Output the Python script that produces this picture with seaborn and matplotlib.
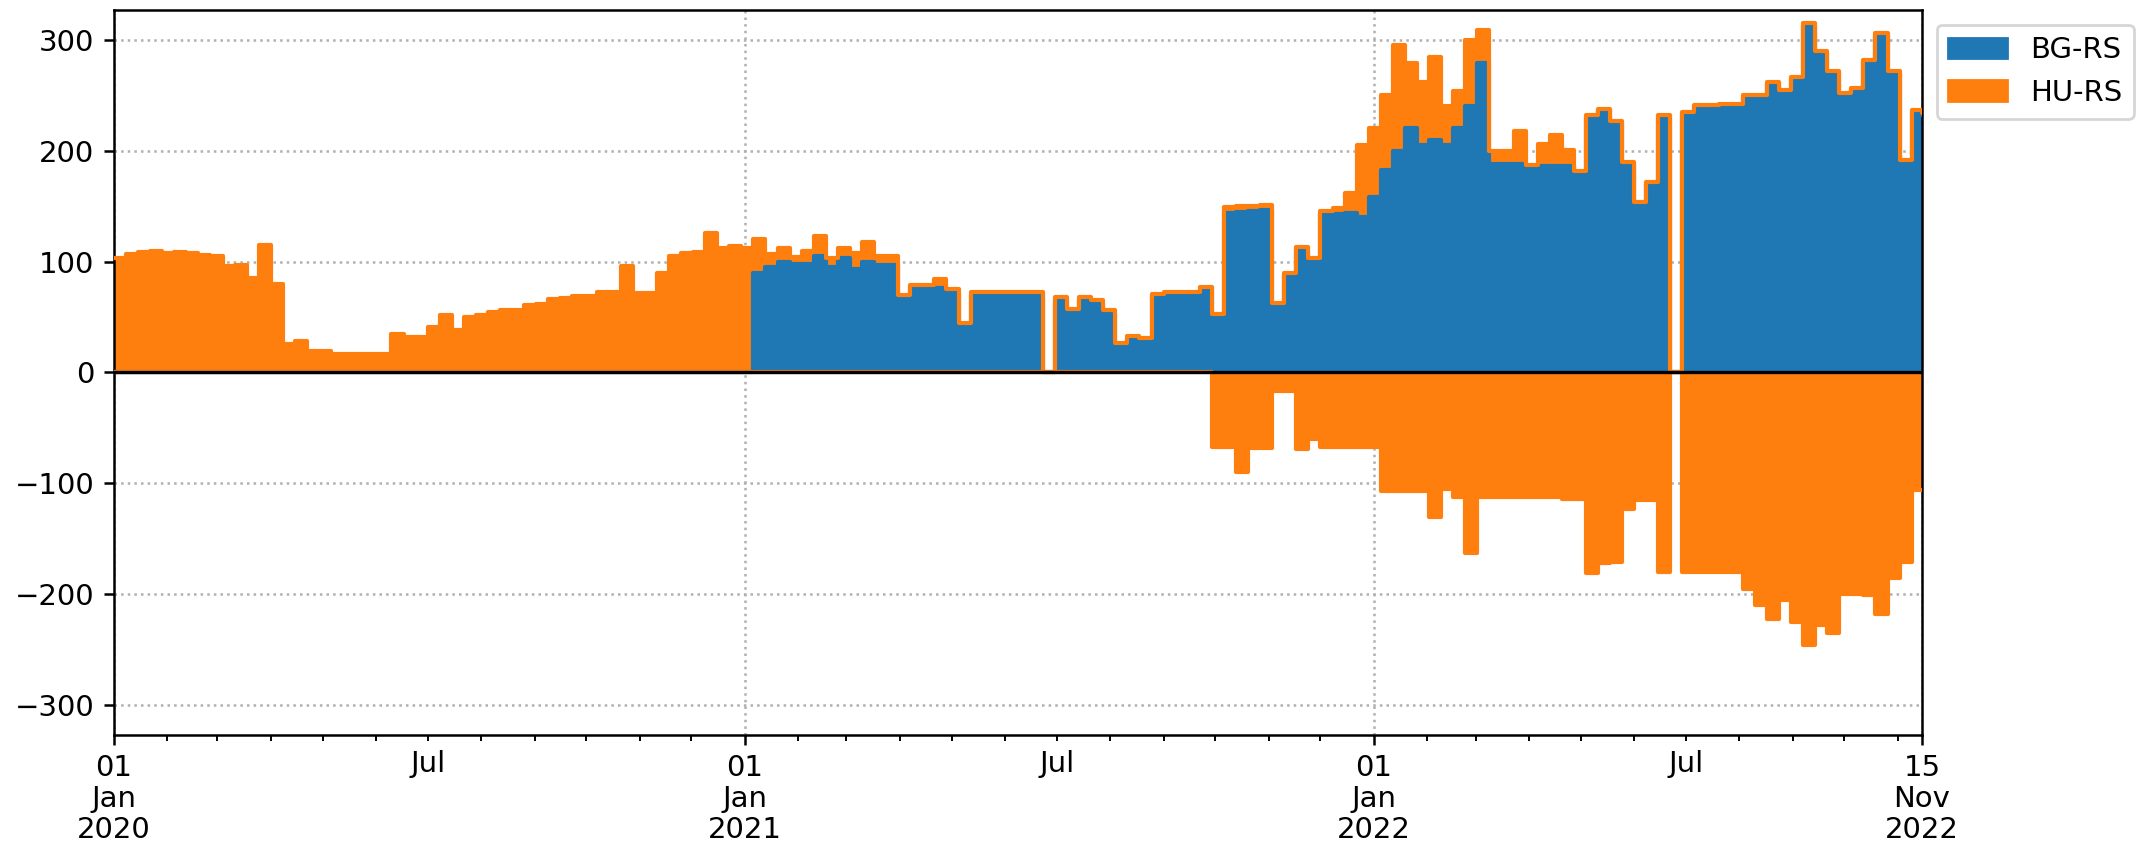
import numpy as np
import pandas as pd
import matplotlib
matplotlib.use("Agg")
import matplotlib.pyplot as plt
from matplotlib.patches import Patch
import seaborn as sns

# ---------------- data (weekly readings of the reference) ----------------
week_starts = pd.date_range("2020-01-01", periods=150, freq="7D")
end_date = pd.Timestamp("2022-11-15")
dates = week_starts.append(pd.DatetimeIndex([end_date]))

bg_rs = [0, 0, 0, 0, 0, 0, 0, 0, 0, 0,
         0, 0, 0, 0, 0, 0, 0, 0, 0, 0,
         0, 0, 0, 0, 0, 0, 0, 0, 0, 0,
         0, 0, 0, 0, 0, 0, 0, 0, 0, 0,
         0, 0, 0, 0, 0, 0, 0, 0, 0, 0,
         0, 0, 0,
         90, 95, 100, 98, 98, 105, 95, 103, 93, 100,
         97, 97, 66, 76, 76, 76, 72, 42, 70, 70,
         70, 70, 70, 70, 0, 65, 54, 65, 62, 53,
         24, 30, 28, 68, 70, 70, 70, 74, 50, 144,
         145, 146, 147, 60, 87, 110, 100, 143, 143, 144,
         140, 158, 183, 200, 221, 205, 210, 205, 221, 240,
         279, 188, 188, 188, 184, 186, 186, 186, 180, 230,
         236, 225, 188, 152, 170, 230, 0, 233, 239, 239,
         240, 240, 248, 248, 260, 253, 265, 313, 288, 270,
         250, 255, 280, 304, 270, 190, 235,
         232]

hu_rs_pos = [103, 107, 109, 110, 108, 109, 108, 106, 105, 96,
             97, 85, 115, 80, 26, 28, 19, 19, 17, 17,
             17, 17, 17, 35, 32, 32, 41, 52, 38, 50,
             52, 55, 56, 56, 61, 62, 66, 67, 69, 69,
             73, 73, 96, 72, 72, 90, 105, 108, 109, 126,
             112, 114, 112,
             30, 12, 12, 6, 12, 18, 8, 9, 15, 18,
             8, 8, 4, 3, 3, 8, 3, 3, 3, 3,
             3, 3, 3, 3, 0, 3, 3, 3, 3, 3,
             3, 3, 3, 3, 3, 3, 3, 3, 3, 5,
             5, 4, 4, 3, 3, 3, 3, 3, 5, 18,
             65, 63, 67, 95, 58, 57, 75, 35, 33, 60,
             30, 12, 12, 30, 3, 20, 28, 15, 2, 2,
             2, 2, 2, 2, 2, 2, 0, 2, 2, 2,
             2, 2, 2, 2, 2, 2, 2, 2, 2, 2,
             2, 2, 2, 2, 2, 2, 2,
             2]

hu_rs_neg = [0, 0, 0, 0, 0, 0, 0, 0, 0, 0,
             0, 0, 0, 0, 0, 0, 0, 0, 0, 0,
             0, 0, 0, 0, 0, 0, 0, 0, 0, 0,
             0, 0, 0, 0, 0, 0, 0, 0, 0, 0,
             0, 0, 0, 0, 0, 0, 0, 0, 0, 0,
             0, 0, 0, 0, 0, 0, 0, 0, 0, 0,
             0, 0, 0, 0, 0, 0, 0, 0, 0, 0,
             0, 0, 0, 0, 0, 0, 0, 0, 0, 0,
             0, 0, 0, 0, 0, 0, 0, 0, 0, 0,
             0,
             -67, -67, -90, -68, -68, -17, -17, -69, -60, -67,
             -67, -67, -67, -67, -107, -107, -107, -107, -130, -105,
             -112, -163, -112, -112, -112, -112, -112, -112, -112, -114,
             -114, -181, -172, -171, -123, -115, -115, -180, 0, -180,
             -180, -180, -180, -180, -195, -210, -222, -205, -225, -246,
             -228, -235, -200, -200, -201, -218, -185, -171, -106,
             -106]

series_names = ["BG-RS", "HU-RS"]
series_colors = ["#1f77b4", "#ff7f0e"]

major_tick_dates = ["2020-01-01", "2021-01-01", "2022-01-01", "2022-11-15"]
major_tick_labels = ["01\nJan\n2020", "01\nJan\n2021", "01\nJan\n2022", "15\nNov\n2022"]
y_ticks = [-300, -200, -100, 0, 100, 200, 300]

# ---------------- style ----------------
sns.set_theme(style="ticks")
plt.rcParams["font.family"] = ["DejaVu Sans"]
plt.rcParams.update({
    "axes.edgecolor": "black",
    "xtick.color": "black",
    "ytick.color": "black",
    "text.color": "black",
    "axes.labelcolor": "black",
    "axes.linewidth": 0.9,
})
FS = 10.5

df = pd.DataFrame({"date": dates, "BG-RS": bg_rs,
                   "HU_pos": hu_rs_pos, "HU_neg": hu_rs_neg})
df["HU_top"] = df["BG-RS"] + df["HU_pos"]

fig = plt.figure(figsize=(10.77, 4.245), dpi=200)
ax = fig.add_axes([0.0529, 0.1343, 0.8394, 0.8539])

blue, orange = series_colors

ax.fill_between(df["date"], 0, df["BG-RS"], step="post", color=blue, lw=0, zorder=2)
sns.lineplot(data=df, x="date", y="BG-RS", ax=ax, color=blue, lw=1.5,
             drawstyle="steps-post", legend=False, zorder=3)
ax.fill_between(df["date"], df["BG-RS"], df["HU_top"], step="post", color=orange, lw=0, zorder=2)
ax.fill_between(df["date"], df["HU_neg"], 0, step="post", color=orange, lw=0, zorder=2)
sns.lineplot(data=df, x="date", y="HU_top", ax=ax, color=orange, lw=1.5,
             drawstyle="steps-post", legend=False, zorder=4)
sns.lineplot(data=df, x="date", y="HU_neg", ax=ax, color=orange, lw=1.5,
             drawstyle="steps-post", legend=False, zorder=4)
ax.axhline(0, color="black", lw=1.2, zorder=5)

ax.set_xlim(pd.Timestamp("2020-01-01"), end_date)
ax.set_ylim(-327, 327)
ax.set_xlabel("")
ax.set_ylabel("")

# x ticks: major at year starts / end, minor monthly with "Jul" labels
major = pd.to_datetime(major_tick_dates)
ax.set_xticks(major)
ax.set_xticklabels(major_tick_labels, fontsize=FS, linespacing=1.12)
minor = [d for d in pd.date_range("2020-02-01", "2022-11-01", freq="MS") if d.month != 1]
ax.set_xticks(minor, minor=True)
ax.set_xticklabels(["Jul" if d.month == 7 else "" for d in minor], minor=True, fontsize=FS)
ax.set_yticks(y_ticks)
ax.tick_params(axis="y", labelsize=FS)
ax.tick_params(which="major", length=3.5, width=0.9)
ax.tick_params(which="minor", length=2, width=0.7)

ax.grid(True, which="major", axis="both", linestyle=":", color="#b0b0b0", lw=0.9, zorder=1)
ax.set_axisbelow(True)

handles = [Patch(facecolor=c, edgecolor=c) for c in series_colors]
leg = ax.legend(handles, series_names, loc="upper left", bbox_to_anchor=(1.0, 1.0),
                fontsize=FS, frameon=True, fancybox=True)
leg.get_frame().set_edgecolor("#cccccc")

fig.savefig("out.png", dpi=200)
